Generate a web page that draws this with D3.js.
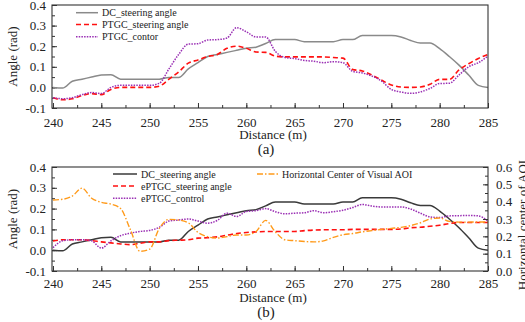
<!DOCTYPE html>
<html>
<head>
<meta charset="utf-8">
<script src="https://cdn.jsdelivr.net/npm/d3@7"></script>
<style>
  body { margin: 0; background: #fff; }
  svg { display: block; }
  text { font-family: "Liberation Serif", "Times New Roman", serif; fill: #222; }
</style>
</head>
<body>
<div id="chart"></div>
<script>
// distance (m)
const distance = [240, 241, 242, 243, 244, 245, 246, 247, 248, 249, 250, 251, 252, 253, 254, 255,
  256, 257, 258, 259, 260, 261, 262, 263, 264, 265, 266, 267, 268, 269, 270, 271, 272, 273, 274,
  275, 276, 277, 278, 279, 280, 281, 282, 283, 284, 285];

// DC steering angle (rad), same in both panels
const dcAngle = [0.0, -0.003, 0.03, 0.04, 0.05, 0.06, 0.062, 0.04, 0.04, 0.04, 0.04, 0.04, 0.048, 0.048,
  0.09, 0.12, 0.15, 0.16, 0.17, 0.18, 0.19, 0.195, 0.213, 0.232, 0.232, 0.232, 0.222, 0.222, 0.222,
  0.222, 0.232, 0.232, 0.252, 0.252, 0.252, 0.252, 0.245, 0.228, 0.215, 0.215, 0.188, 0.15, 0.108,
  0.06, 0.01, 0.0];

// panel (a)
const ptgcAngle = [-0.05, -0.06, -0.055, -0.04, -0.03, -0.035, -0.01, 0.0, 0.0, 0.0, 0.0, 0.006, 0.04,
  0.075, 0.118, 0.133, 0.15, 0.16, 0.19, 0.2, 0.19, 0.172, 0.17, 0.152, 0.148, 0.148, 0.148, 0.148,
  0.148, 0.145, 0.142, 0.087, 0.08, 0.06, 0.035, 0.012, 0.002, 0.0, 0.002, 0.015, 0.039, 0.039, 0.085,
  0.115, 0.14, 0.16];
const ptgcContor = [-0.05, -0.055, -0.05, -0.035, -0.025, -0.03, 0.0, 0.01, 0.01, 0.01, 0.01, 0.02, 0.09,
  0.16, 0.21, 0.212, 0.23, 0.232, 0.24, 0.29, 0.27, 0.245, 0.245, 0.175, 0.145, 0.14, 0.131, 0.127,
  0.12, 0.125, 0.12, 0.078, 0.07, 0.055, 0.03, -0.01, -0.022, -0.029, -0.022, -0.005, 0.019, 0.02,
  0.06, 0.1, 0.12, 0.152];

// panel (b)
const eptgcAngle = [0.044, 0.05, 0.05, 0.05, 0.046, 0.04, 0.035, 0.03, 0.027, 0.033, 0.04, 0.04, 0.046,
  0.048, 0.05, 0.058, 0.06, 0.064, 0.072, 0.08, 0.085, 0.088, 0.09, 0.09, 0.09, 0.09, 0.094, 0.097,
  0.098, 0.098, 0.098, 0.1, 0.1, 0.1, 0.1, 0.1, 0.102, 0.108, 0.11, 0.115, 0.12, 0.128, 0.133, 0.133,
  0.133, 0.133];
const eptgcControl = [0.012, 0.045, 0.05, 0.05, 0.045, 0.01, 0.045, 0.07, 0.082, 0.09, 0.095, 0.11, 0.14,
  0.145, 0.15, 0.14, 0.13, 0.143, 0.178, 0.162, 0.186, 0.19, 0.2, 0.185, 0.175, 0.178, 0.18, 0.19,
  0.18, 0.185, 0.192, 0.205, 0.22, 0.212, 0.208, 0.208, 0.208, 0.198, 0.178, 0.16, 0.157, 0.165,
  0.166, 0.167, 0.165, 0.14];
// horizontal centre of visual AOI (right axis)
const aoiCenter = [0.41, 0.414, 0.432, 0.478, 0.42, 0.396, 0.386, 0.36, 0.24, 0.114, 0.126, 0.246, 0.298,
  0.294, 0.278, 0.222, 0.198, 0.19, 0.198, 0.208, 0.208, 0.228, 0.292, 0.226, 0.18, 0.175, 0.17,
  0.168, 0.174, 0.194, 0.209, 0.216, 0.226, 0.233, 0.24, 0.246, 0.252, 0.262, 0.278, 0.3, 0.306,
  0.286, 0.282, 0.282, 0.283, 0.283];

const xTicks = [240, 245, 250, 255, 260, 265, 270, 275, 280, 285];
const yTicks = [-0.1, 0.0, 0.1, 0.2, 0.3, 0.4];
const rTicks = [0.0, 0.1, 0.2, 0.3, 0.4, 0.5, 0.6];

const width = 525, height = 322;
const svg = d3.select('#chart').append('svg')
  .attr('width', width)
  .attr('height', height);
svg.append('rect').attr('width', width).attr('height', height).attr('fill', '#fff');

const left = 52, right = 488;
const x = d3.scaleLinear().domain([239.9, 285]).range([left, right]);

const minorX = d3.range(240, 285.01, 2.5);
const minorY = d3.range(-0.1, 0.401, 0.05);

function panel(top, bottom, labelPad, caption, series, legendPos) {
  const y = d3.scaleLinear().domain([-0.1, 0.4]).range([bottom, top]);
  const g = svg.append('g');

  // minor ticks
  g.append('g')
    .attr('transform', `translate(0,${bottom})`)
    .call(d3.axisBottom(x).tickValues(minorX).tickSize(-3).tickFormat(''))
    .call(a => a.select('.domain').remove());
  g.append('g')
    .attr('transform', `translate(${left},0)`)
    .call(d3.axisLeft(y).tickValues(minorY).tickSize(-3).tickFormat(''))
    .call(a => a.select('.domain').remove());

  // major ticks + labels
  g.append('g')
    .attr('transform', `translate(0,${bottom})`)
    .call(d3.axisBottom(x).tickValues(xTicks).tickSize(-5).tickPadding(labelPad).tickFormat(d3.format('d')))
    .call(a => a.select('.domain').remove())
    .call(a => a.selectAll('text').style('font-size', '13px').style('font-family', '"Liberation Serif", serif').attr('fill', '#222'));
  g.append('g')
    .attr('transform', `translate(${left},0)`)
    .call(d3.axisLeft(y).tickValues(yTicks).tickSize(-5).tickPadding(6).tickFormat(d => d.toFixed(1)))
    .call(a => a.select('.domain').remove())
    .call(a => a.selectAll('text').style('font-size', '13px').style('font-family', '"Liberation Serif", serif').attr('fill', '#222'));
  g.selectAll('.tick line').attr('stroke', '#333');

  const line = d3.line()
    .x((d, i) => x(distance[i]))
    .curve(d3.curveMonotoneX);

  series.forEach(s => {
    const sy = s.scale || y;
    g.append('path')
      .datum(s.values)
      .attr('fill', 'none')
      .attr('stroke', s.color)
      .attr('stroke-width', s.width)
      .attr('stroke-dasharray', s.dash)
      .attr('d', line.y(d => sy(d)));
  });

  // frame
  g.append('rect')
    .attr('x', left).attr('y', top)
    .attr('width', right - left).attr('height', bottom - top)
    .attr('fill', 'none').attr('stroke', '#333').attr('stroke-width', 1.1);

  // legend
  series.forEach((s, i) => {
    const p = legendPos[i];
    g.append('line')
      .attr('x1', p[0]).attr('x2', p[0] + p[2])
      .attr('y1', p[1]).attr('y2', p[1])
      .attr('stroke', s.color).attr('stroke-width', s.width)
      .attr('stroke-dasharray', s.dash);
    g.append('text')
      .attr('x', p[0] + p[2] + 4).attr('y', p[1] + 3.5)
      .style('font-size', '10px')
      .text(s.name);
  });

  g.append('text')
    .attr('transform', `translate(17,${(top + bottom) / 2}) rotate(-90)`)
    .attr('text-anchor', 'middle')
    .style('font-size', '13px')
    .text('Angle (rad)');
  g.append('text')
    .attr('x', 273).attr('y', bottom + 31)
    .attr('text-anchor', 'middle')
    .style('font-size', '13px')
    .text('Distance (m)');
  g.append('text')
    .attr('x', 266).attr('y', bottom + 46)
    .attr('text-anchor', 'middle')
    .style('font-size', '15px')
    .text(caption);

  return y;
}

// (a)
panel(5, 108, 10, '(a)', [
  { name: 'DC_steering angle', values: dcAngle, color: '#8a8a8a', width: 1.5, dash: null },
  { name: 'PTGC_steering angle', values: ptgcAngle, color: '#ff1010', width: 1.6, dash: '5,3' },
  { name: 'PTGC_contor', values: ptgcContor, color: '#9a2fb4', width: 1.5, dash: '1.5,1.2' }
], [[76, 12.7, 22], [76, 24.5, 22], [76, 36.7, 22]]);

// (b)
const yR = d3.scaleLinear().domain([0, 0.6]).range([271, 167]);
panel(167, 271, 8, '(b)', [
  { name: 'DC_steering angle', values: dcAngle, color: '#3a3a3a', width: 1.5, dash: null },
  { name: 'ePTGC_steering angle', values: eptgcAngle, color: '#ff1010', width: 1.6, dash: '5,3' },
  { name: 'ePTGC_control', values: eptgcControl, color: '#9a2fb4', width: 1.5, dash: '1.5,1.2' },
  { name: 'Horizontal Center of Visual AOI', values: aoiCenter, color: '#ff9a1a', width: 1.4, dash: '6,2,1.5,2', scale: yR }
], [[113, 174, 24], [113, 186, 24], [113, 198.3, 24], [257, 174, 21]]);

// right axis of (b)
const ra = svg.append('g').attr('transform', `translate(${right},0)`);
ra.call(d3.axisRight(yR).tickValues(d3.range(0, 0.601, 0.05)).tickSize(-3).tickFormat(''))
  .call(a => a.select('.domain').remove());
const rb = svg.append('g').attr('transform', `translate(${right},0)`);
rb.call(d3.axisRight(yR).tickValues(rTicks).tickSize(-5).tickPadding(8).tickFormat(d => d.toFixed(1)))
  .call(a => a.select('.domain').remove())
  .call(a => a.selectAll('text').style('font-size', '13px').style('font-family', '"Liberation Serif", serif').attr('fill', '#222'));
svg.selectAll('.tick line').attr('stroke', '#333');

svg.append('text')
  .attr('transform', 'translate(527,225) rotate(-90)')
  .attr('text-anchor', 'middle')
  .style('font-size', '13px')
  .text('Horizontal center of AOI');
</script>
</body>
</html>
